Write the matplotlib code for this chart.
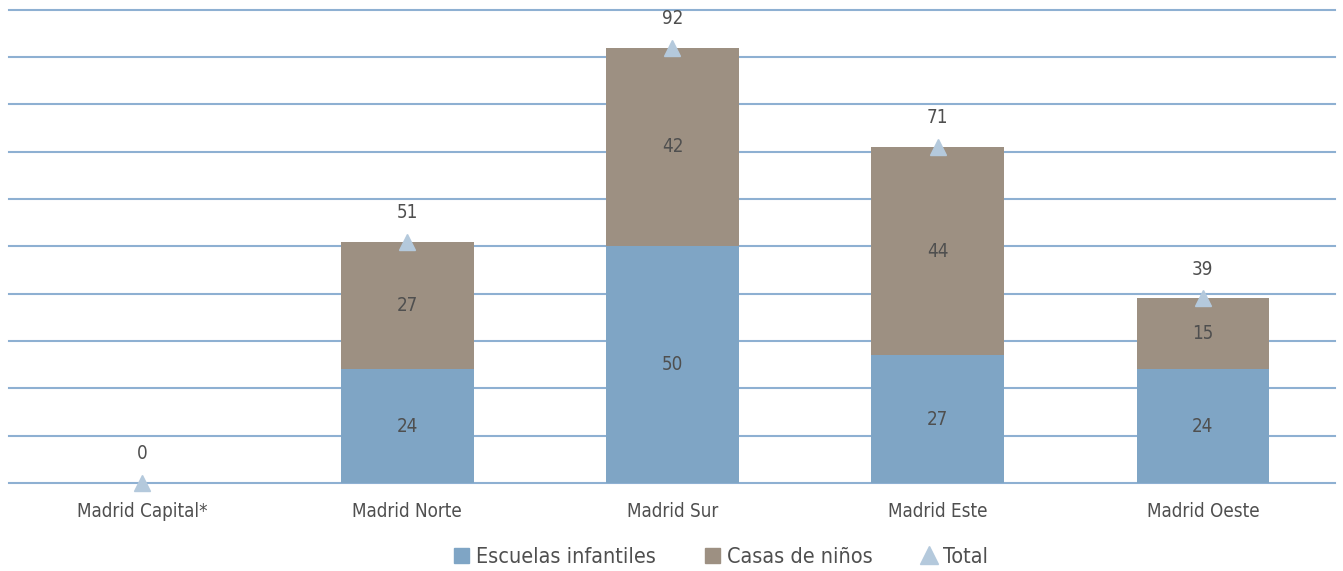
import matplotlib.pyplot as plt
from matplotlib.lines import Line2D
from matplotlib.patches import Patch

plt.rcParams['font.family'] = ['DejaVu Sans']
plt.rcParams['font.stretch'] = 'condensed'

# data
zonas = ["Madrid Capital*", "Madrid Norte", "Madrid Sur", "Madrid Este", "Madrid Oeste"]
escuelas = [0, 24, 50, 27, 24]
casas = [0, 27, 42, 44, 15]
total = [0, 51, 92, 71, 39]

c_esc = "#7fa5c5"
c_casas = "#9d9082"
c_tri = "#b4c9dc"
c_grid = "#8eb0d2"
c_txt = "#4f4f4f"

fig = plt.figure(figsize=(13.43, 5.71), dpi=100)
ax = fig.add_axes([0.007, 0.154, 0.9874, 0.829])

x = list(range(len(zonas)))
ax.bar(x, escuelas, width=0.5, color=c_esc, zorder=2)
ax.bar(x, casas, width=0.5, bottom=escuelas, color=c_casas, zorder=2)
ax.plot(x, total, linestyle="none", marker="^", markersize=11, color=c_tri, zorder=3, clip_on=False)

for i in x:
    if escuelas[i] > 0:
        ax.text(i, escuelas[i] / 2, str(escuelas[i]), ha="center", va="center", fontsize=13.5, color=c_txt, zorder=4)
    if casas[i] > 0:
        ax.text(i, escuelas[i] + casas[i] / 2, str(casas[i]), ha="center", va="center", fontsize=13.5, color=c_txt, zorder=4)
    ax.annotate(str(total[i]), (i, total[i]), xytext=(0, 21), textcoords="offset points",
                ha="center", va="center", fontsize=13.5, color=c_txt)

ax.set_xlim(-0.5, 4.5)
ax.set_ylim(0, 100)
ax.set_yticks(range(0, 101, 10))
ax.yaxis.grid(True, color=c_grid, linewidth=1.5, zorder=1)
for gl in ax.get_ygridlines():
    gl.set_clip_on(False)
ax.set_axisbelow(True)
ax.tick_params(left=False, labelleft=False, bottom=False)
ax.set_xticks(x)
ax.set_xticklabels(zonas, fontsize=13.5, color=c_txt)
ax.tick_params(axis="x", pad=10)
for s in ax.spines.values():
    s.set_visible(False)

handles = [Patch(color=c_esc, label="Escuelas infantiles"),
           Patch(color=c_casas, label="Casas de niños"),
           Line2D([], [], linestyle="none", marker="^", markersize=13, color=c_tri, label="Total")]
fig.legend(handles=handles, loc="center", bbox_to_anchor=(0.537, 0.025), ncol=3, frameon=False,
           fontsize=15.5, labelcolor=c_txt, handlelength=0.7, handleheight=0.7, handletextpad=0.3,
           columnspacing=2.3)

fig.savefig("out.png", dpi=100)
